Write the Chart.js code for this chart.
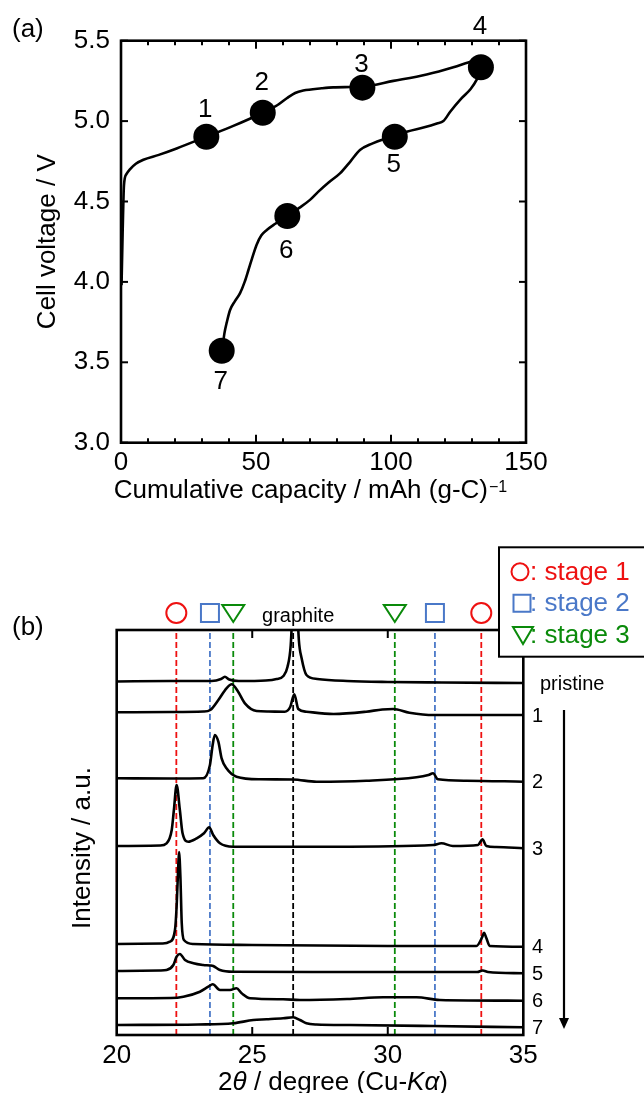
<!DOCTYPE html>
<html>
<head>
<meta charset="utf-8">
<script src="https://cdn.jsdelivr.net/npm/chart.js@4.4.1/dist/chart.umd.min.js"></script>
<style>
  html, body { margin: 0; padding: 0; background: #fff; }
  #page { position: relative; width: 644px; height: 1093px; overflow: hidden; }
  canvas { position: absolute; left: 0; }
</style>
</head>
<body>
<div id="page">
  <canvas id="chartA" width="644" height="530" style="top:0"></canvas>
  <canvas id="chartB" width="644" height="563" style="top:530px"></canvas>
</div>
<script>
const FONT = '"Liberation Sans", Arial, Helvetica, sans-serif';
const RED = "#ee1111", BLUE = "#4a78c8", GREEN = "#0a8a0a";

// ---- (a) charge / discharge curve ----
const chargeCap = [0.2, 0.6, 1.1, 2.0, 3.3, 5.5, 8.3, 14, 20.6, 31.6, 41.6, 52.5, 58, 61.4, 64.5, 67.5, 74.3, 78.6, 89.4, 100.9, 113.2, 123.1, 128.6, 133.5];
const chargeV = [3.98, 4.3, 4.6, 4.67, 4.7, 4.735, 4.76, 4.79, 4.83, 4.903, 4.97, 5.052, 5.1, 5.142, 5.175, 5.19, 5.204, 5.21, 5.215, 5.25, 5.29, 5.335, 5.365, 5.39];
const dischargeCap = [37.3, 37.8, 38.3, 39.2, 40.4, 42.2, 44.1, 45.8, 47.2, 48.6, 50.2, 52, 54, 57, 61.6, 66, 70, 73, 77, 81.1, 85, 88.5, 93, 97, 101.4, 105.8, 112, 117, 119.4, 122, 126, 129.5, 131.7, 133.5];
const dischargeV = [3.572, 3.62, 3.68, 3.75, 3.825, 3.88, 3.93, 4.0, 4.074, 4.15, 4.23, 4.29, 4.323, 4.36, 4.41, 4.46, 4.51, 4.56, 4.62, 4.675, 4.75, 4.82, 4.86, 4.885, 4.903, 4.934, 4.96, 4.985, 5.0, 5.06, 5.14, 5.2, 5.256, 5.33];
const pointCap = [31.6, 52.5, 89.4, 133.3, 101.4, 61.6, 37.3];
const pointV = [4.903, 5.052, 5.208, 5.335, 4.903, 4.41, 3.572];
const pointLabels = ["1", "2", "3", "4", "5", "6", "7"];
const labelDy = [-27, -30, -23, -40, 28, 35, 31];

// ---- (b) XRD patterns (2theta, stacked intensity a.u.) ----
const sampleLabels = ["pristine", "1", "2", "3", "4", "5", "6", "7"];
const tthP = [20, 22, 23.5, 23.85, 23.99, 24.15, 24.5, 25.5, 25.9, 26.15, 26.3, 26.42, 26.5, 26.57, 26.65, 26.72, 26.82, 27.0, 27.4, 28.5, 30, 32, 35];
const intP = [353.5, 354, 354, 356, 358.3, 355.5, 354, 354.5, 356, 359, 368, 390, 435, 475, 435, 395, 377, 360, 356, 354, 353, 352.5, 352];
const tth1 = [20, 22, 23.2, 23.45, 23.75, 24.05, 24.24, 24.48, 24.73, 25.16, 25.6, 26.2, 26.4, 26.55, 26.7, 27, 28, 29.2, 29.8, 30.2, 30.8, 31.7, 35];
const int1 = [322.7, 323, 323.5, 325, 335, 346.7, 350.7, 343.3, 331.7, 324, 323.5, 323.3, 328, 340.7, 326, 323.3, 321, 323.3, 325.5, 326, 322.3, 320, 320];
const tth2 = [20, 22, 23.19, 23.44, 23.54, 23.62, 23.75, 23.87, 24.05, 24.42, 25.28, 26.5, 27.37, 29.21, 31.06, 31.5, 31.67, 31.85, 32.9, 35];
const int2 = [256.7, 256.5, 256.7, 270, 290, 300, 293.3, 276.7, 266.7, 258.3, 255.7, 255.5, 253.3, 254.3, 257.7, 260, 261.7, 255.7, 254.3, 253.3];
const tth3 = [20, 21.6, 21.84, 22.03, 22.11, 22.21, 22.33, 22.43, 22.64, 22.95, 23.22, 23.41, 23.56, 23.81, 24.3, 28, 31.67, 31.98, 32.4, 33.33, 33.49, 33.64, 34, 35];
const int3 = [189, 189.5, 191.7, 205, 225, 250, 225, 201.7, 193.3, 196.7, 201.7, 207.7, 200, 191.7, 188.3, 188.3, 190, 191.7, 189, 190, 195.7, 189, 188, 186.7];
const tth4 = [20, 21.7, 21.96, 22.15, 22.21, 22.27, 22.3, 22.35, 22.4, 22.48, 22.83, 25, 30, 33.27, 33.49, 33.55, 33.64, 33.76, 35];
const int4 = [91, 91.5, 93.3, 105, 128.3, 168.3, 183, 158.3, 111.7, 95, 91, 90, 89, 89, 98.3, 102.3, 96.7, 89, 88.3];
const tth5 = [20, 21.6, 21.84, 22.09, 22.21, 22.33, 22.52, 22.83, 23.19, 23.45, 23.56, 23.81, 24.3, 28, 33.3, 33.5, 33.7, 35];
const int5 = [64, 64.5, 65, 70, 78.3, 81, 75, 71.7, 70, 69.5, 69, 65, 63.3, 63, 63, 64.5, 63, 61.7];
const tth6 = [20, 22, 22.46, 23.07, 23.38, 23.54, 23.81, 24.18, 24.42, 24.61, 24.92, 26.14, 26.76, 28.5, 29.83, 31.06, 31.92, 35];
const int6 = [36.7, 37, 38.3, 43.3, 48.3, 50.7, 45, 45, 46.7, 41.7, 36.7, 35.7, 35, 36, 37.7, 37.7, 35, 34.3];
const tth7 = [20, 23, 24.3, 25.04, 25.53, 26.14, 26.51, 26.76, 27.0, 27.37, 28.6, 31.67, 35];
const int7 = [10, 10.5, 11.7, 15, 15.7, 16.7, 17.7, 15, 11.7, 10.5, 10, 9, 7.7];

const stage1Pos = [22.2, 33.45];
const stage2Pos = [23.44, 31.74];
const stage3Pos = [24.3, 30.26];
const graphitePos = [26.51];

function xy(xs, ys) { return xs.map((x, i) => ({ x: x, y: ys[i] })); }
function seg(ctx, x1, y1, x2, y2) { ctx.beginPath(); ctx.moveTo(x1, y1); ctx.lineTo(x2, y2); ctx.stroke(); }
function shape(ctx, kind, px, py) {
  ctx.beginPath();
  if (kind === "circle") ctx.arc(px, py, 10, 0, Math.PI * 2);
  else if (kind === "rect") ctx.rect(px - 9, py - 9, 18, 18);
  else { ctx.moveTo(px - 11, py - 8); ctx.lineTo(px + 11, py - 8); ctx.lineTo(px, py + 9); ctx.closePath(); }
  ctx.stroke();
}

// ================= panel (a) =================
const panelA = {
  id: "panelA",
  afterDraw(chart) {
    const { ctx, chartArea: a, scales: { x, y } } = chart;
    ctx.save();
    ctx.strokeStyle = "#000";
    ctx.lineWidth = 2.6;
    ctx.strokeRect(a.left, a.top, a.right - a.left, a.bottom - a.top);
    ctx.lineWidth = 2;
    for (let v = 0; v <= 150; v += 10) {
      const px = x.getPixelForValue(v);
      const len = v % 50 === 0 ? 8 : 4.5;
      seg(ctx, px, a.bottom, px, a.bottom - len);
      seg(ctx, px, a.top, px, a.top + len);
    }
    for (let v = 3; v <= 5.5001; v += 0.5) {
      const py = y.getPixelForValue(v);
      seg(ctx, a.left, py, a.left + 7, py);
      seg(ctx, a.right, py, a.right - 7, py);
    }
    ctx.fillStyle = "#000";
    ctx.font = "26px " + FONT;
    ctx.textAlign = "center";
    ctx.textBaseline = "middle";
    pointLabels.forEach((t, i) => {
      ctx.fillText(t, x.getPixelForValue(pointCap[i]) - 1, y.getPixelForValue(pointV[i]) + labelDy[i]);
    });
    // panel tag and axis titles
    ctx.textBaseline = "alphabetic";
    ctx.textAlign = "left";
    ctx.fillText("(a)", 12, 37);
    const main = "Cumulative capacity / mAh (g-C)";
    const w = ctx.measureText(main).width;
    ctx.font = "16px " + FONT;
    const ws = ctx.measureText("\u22121").width;
    const x0 = 310 - (w + ws) / 2;
    ctx.font = "26px " + FONT;
    ctx.fillText(main, x0, 498);
    ctx.font = "16px " + FONT;
    ctx.fillText("\u22121", x0 + w + 1, 492);
    ctx.save();
    ctx.translate(55, (a.top + a.bottom) / 2);
    ctx.rotate(-Math.PI / 2);
    ctx.font = "26px " + FONT;
    ctx.textAlign = "center";
    ctx.fillText("Cell voltage / V", 0, 0);
    ctx.restore();
    ctx.restore();
  }
};

new Chart(document.getElementById("chartA"), {
  type: "line",
  data: {
    datasets: [
      { type: "scatter", data: xy(pointCap, pointV), pointRadius: 13, pointHoverRadius: 13,
        backgroundColor: "#000", borderColor: "#000", borderWidth: 0, clip: false, order: 0 },
      { data: xy(chargeCap, chargeV), borderColor: "#000", borderWidth: 2.6, pointRadius: 0,
        cubicInterpolationMode: "monotone", fill: false, order: 1 },
      { data: xy(dischargeCap, dischargeV), borderColor: "#000", borderWidth: 2.6, pointRadius: 0,
        cubicInterpolationMode: "monotone", fill: false, order: 1 }
    ]
  },
  options: {
    responsive: false, animation: false, events: [],
    layout: { padding: { left: 0, top: 40.7, right: 118, bottom: 0 } },
    plugins: { legend: { display: false }, tooltip: { enabled: false } },
    scales: {
      x: {
        type: "linear", min: 0, max: 150,
        ticks: { stepSize: 50, color: "#000", font: { family: FONT, size: 26 }, padding: 5, maxRotation: 0 },
        grid: { display: false, drawTicks: false }, border: { display: false },
        afterFit(s) { s.height = 87.3; }
      },
      y: {
        min: 3, max: 5.5,
        ticks: { stepSize: 0.5, color: "#000", font: { family: FONT, size: 26 }, padding: 11,
          callback: v => Number(v).toFixed(1) },
        grid: { display: false, drawTicks: false }, border: { display: false },
        afterFit(s) { s.width = 121; }
      }
    }
  },
  plugins: [panelA]
});

// ================= panel (b) =================
const patterns = [[tthP, intP], [tth1, int1], [tth2, int2], [tth3, int3], [tth4, int4], [tth5, int5], [tth6, int6], [tth7, int7]];
const refLines = [];
stage1Pos.forEach(p => refLines.push([p, RED]));
stage2Pos.forEach(p => refLines.push([p, BLUE]));
stage3Pos.forEach(p => refLines.push([p, GREEN]));
graphitePos.forEach(p => refLines.push([p, "#000"]));
const markers = [[stage1Pos, RED, "circle"], [stage2Pos, BLUE, "rect"], [stage3Pos, GREEN, "tri"]];
const markerRow = 422;

const datasetsB = [];
patterns.forEach(([t, v]) => {
  datasetsB.push({ data: xy(t, v), borderColor: "#000", borderWidth: 2.6, pointRadius: 0,
    cubicInterpolationMode: "monotone", fill: false, order: 1 });
});
refLines.forEach(([p, c]) => {
  datasetsB.push({ data: [{ x: p, y: 0 }, { x: p, y: 405 }], borderColor: c, borderWidth: 1.8,
    borderDash: [6, 3], pointRadius: 0, fill: false, order: 2 });
});

const panelB = {
  id: "panelB",
  afterDraw(chart) {
    const { ctx, chartArea: a, scales: { x, y } } = chart;
    ctx.save();
    ctx.strokeStyle = "#000";
    ctx.lineWidth = 2.6;
    ctx.strokeRect(a.left, a.top, a.right - a.left, a.bottom - a.top);
    ctx.lineWidth = 2;
    [25, 30].forEach(v => {
      const px = x.getPixelForValue(v);
      seg(ctx, px, a.bottom, px, a.bottom - 8);
      seg(ctx, px, a.top, px, a.top + 8);
    });
    // stage markers above the frame
    markers.forEach(([pos, c, kind]) => {
      ctx.strokeStyle = c;
      ctx.lineWidth = 2;
      pos.forEach(p => shape(ctx, kind, x.getPixelForValue(p), y.getPixelForValue(markerRow)));
    });
    ctx.fillStyle = "#000";
    ctx.strokeStyle = "#000";
    // sample labels at right end of each trace
    ctx.font = "20px " + FONT;
    ctx.textAlign = "left";
    ctx.textBaseline = "middle";
    patterns.forEach(([t, v], i) => {
      const py = y.getPixelForValue(v[v.length - 1]) + 1;
      ctx.fillText(sampleLabels[i], i === 0 ? 540 : 532, py);
    });
    ctx.textAlign = "center";
    ctx.textBaseline = "alphabetic";
    ctx.fillText("graphite", x.getPixelForValue(graphitePos[0]) + 5, 92);
    // arrow
    ctx.lineWidth = 2.2;
    seg(ctx, 564, 180, 564, 490);
    ctx.beginPath();
    ctx.moveTo(559, 488); ctx.lineTo(569, 488); ctx.lineTo(564, 499); ctx.closePath(); ctx.fill();
    // legend box
    ctx.fillStyle = "#fff";
    ctx.fillRect(499, 17.3, 160, 109.4);
    ctx.lineWidth = 2;
    ctx.strokeRect(499, 17.3, 160, 109.4);
    const rows = [[41.7, RED, "circle", ": stage 1"], [73.3, BLUE, "rect", ": stage 2"], [105, GREEN, "tri", ": stage 3"]];
    ctx.font = "26px " + FONT;
    ctx.textAlign = "left";
    ctx.textBaseline = "middle";
    rows.forEach(([ry, c, kind, txt]) => {
      ctx.strokeStyle = c; ctx.fillStyle = c; ctx.lineWidth = 2;
      ctx.beginPath();
      if (kind === "circle") ctx.arc(520, ry, 8.5, 0, Math.PI * 2);
      else if (kind === "rect") ctx.rect(513.5, ry - 8.5, 17, 17);
      else { ctx.moveTo(513, ry - 8); ctx.lineTo(533, ry - 8); ctx.lineTo(523, ry + 9); ctx.closePath(); }
      ctx.stroke();
      ctx.fillText(txt, 530, ry + 1);
    });
    // tag and axis titles
    ctx.fillStyle = "#000";
    ctx.textBaseline = "alphabetic";
    ctx.font = "26px " + FONT;
    ctx.fillText("(b)", 12, 104.7);
    const parts = [["2", false], ["\u03b8", true], [" / degree (Cu-", false], ["K\u03b1", true], [")", false]];
    let total = 0;
    parts.forEach(([s, it]) => { ctx.font = (it ? "italic " : "") + "26px " + FONT; total += ctx.measureText(s).width; });
    let cx = 333 - total / 2;
    parts.forEach(([s, it]) => {
      ctx.font = (it ? "italic " : "") + "26px " + FONT;
      ctx.fillText(s, cx, 560);
      cx += ctx.measureText(s).width;
    });
    ctx.save();
    ctx.translate(90, 318);
    ctx.rotate(-Math.PI / 2);
    ctx.font = "26px " + FONT;
    ctx.textAlign = "center";
    ctx.fillText("Intensity / a.u.", 0, 0);
    ctx.restore();
    ctx.restore();
  }
};

new Chart(document.getElementById("chartB"), {
  type: "line",
  data: { datasets: datasetsB },
  options: {
    responsive: false, animation: false, events: [],
    layout: { padding: { left: 116.7, top: 100, right: 120.7, bottom: 0 } },
    plugins: { legend: { display: false }, tooltip: { enabled: false } },
    scales: {
      x: {
        type: "linear", min: 20, max: 35,
        ticks: { stepSize: 5, color: "#000", font: { family: FONT, size: 26 }, padding: 5, maxRotation: 0 },
        grid: { display: false, drawTicks: false }, border: { display: false },
        afterFit(s) { s.height = 58; }
      },
      y: { display: false, min: 0, max: 405 }
    }
  },
  plugins: [panelB]
});
</script>
</body>
</html>
